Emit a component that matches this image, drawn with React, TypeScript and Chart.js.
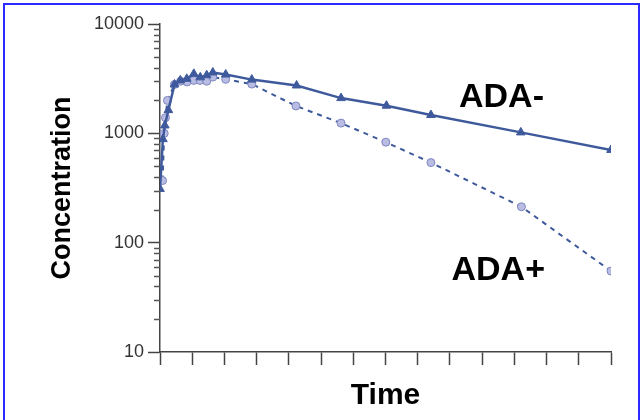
import React, { useEffect, useRef } from "react";
import { Chart, registerables } from "chart.js";

Chart.register(...registerables);

// Time in axis-tick units (ticks at 0..14)
const adaNegTime = [0, 0.09, 0.15, 0.26, 0.45, 0.63, 0.83, 1.05, 1.25, 1.45, 1.64, 2.04, 2.85, 4.24, 5.62, 7.03, 8.41, 11.2, 14];
const adaNegConc = [310, 885, 1180, 1630, 2800, 3050, 3150, 3500, 3250, 3400, 3600, 3450, 3100, 2740, 2100, 1790, 1470, 1020, 705];

const adaPosTime = [0.08, 0.13, 0.17, 0.23, 0.45, 0.64, 0.84, 1.05, 1.24, 1.45, 1.64, 2.04, 2.85, 4.22, 5.62, 7.01, 8.41, 11.22, 14];
const adaPosConc = [370, 1000, 1390, 2000, 2800, 3000, 2950, 3050, 3050, 3000, 3270, 3120, 2820, 1780, 1240, 830, 540, 213, 55];

const yMajorTicks = [10, 100, 1000, 10000];
const xTickCount = 15;

const labelNeg = { text: "ADA-", x: 10.6, y: 2140 };
const labelPos = { text: "ADA+", x: 10.5, y: 56 };

const LINE_BLUE = "#3f5a9c";
const CIRCLE_FILL = "#b9bde3";
const FONT = "Arial, 'Liberation Sans', sans-serif";

export default function App() {
  const ref = useRef<HTMLCanvasElement>(null);

  useEffect(() => {
    const canvas = ref.current;
    if (!canvas) return;

    const minorTicks: number[] = [];
    for (let d = 10; d < 10000; d *= 10) {
      for (let m = 2; m <= 9; m++) minorTicks.push(m * d);
    }

    const annotate = {
      id: "annotate",
      afterDraw(chart: any) {
        const { ctx, scales } = chart;
        const xs = scales.x;
        const ys = scales.y;
        ctx.save();
        ctx.strokeStyle = "#555";
        ctx.lineWidth = 1.5;
        const axX = xs.left;
        minorTicks.forEach((v) => {
          const py = Math.round(ys.getPixelForValue(v)) + 0.5;
          ctx.beginPath();
          ctx.moveTo(axX - 6, py);
          ctx.lineTo(axX, py);
          ctx.stroke();
        });
        ctx.fillStyle = "#000";
        ctx.font = "bold 34px " + FONT;
        ctx.textAlign = "center";
        ctx.textBaseline = "middle";
        [labelNeg, labelPos].forEach((l) => {
          ctx.fillText(l.text, xs.getPixelForValue(l.x), ys.getPixelForValue(l.y));
        });
        ctx.restore();
      },
    };

    const chart = new Chart(canvas, {
      type: "line",
      data: {
        datasets: [
          {
            label: "ADA-",
            data: adaNegTime.map((t, i) => ({ x: t, y: adaNegConc[i] })),
            borderColor: LINE_BLUE,
            backgroundColor: LINE_BLUE,
            borderWidth: 2.5,
            pointStyle: "triangle",
            pointRadius: 5,
            pointBorderWidth: 1,
            pointBorderColor: LINE_BLUE,
            pointBackgroundColor: LINE_BLUE,
            tension: 0,
          },
          {
            label: "ADA+",
            data: adaPosTime.map((t, i) => ({ x: t, y: adaPosConc[i] })),
            borderColor: LINE_BLUE,
            backgroundColor: CIRCLE_FILL,
            borderWidth: 2,
            borderDash: [5, 5],
            pointStyle: "circle",
            pointRadius: 4,
            pointBorderWidth: 1,
            pointBorderColor: "#7f86c0",
            pointBackgroundColor: CIRCLE_FILL,
            tension: 0,
          },
        ],
      },
      options: {
        animation: false,
        responsive: false,
        maintainAspectRatio: false,
        layout: { padding: { left: 0, right: 33, top: 24, bottom: 0 } },
        plugins: { legend: { display: false }, tooltip: { enabled: false } },
        scales: {
          x: {
            type: "linear",
            min: 0,
            max: xTickCount - 1,
            border: { display: true, color: "#444", width: 1.5 },
            grid: { drawOnChartArea: false, drawTicks: true, tickLength: 13, tickColor: "#444", tickWidth: 1.5 },
            ticks: { stepSize: 1, callback: () => "", padding: 0 },
            afterFit: (axis: any) => {
              axis.height = 68;
            },
            title: {
              display: true,
              text: "Time",
              color: "#000",
              font: { family: FONT, size: 30, weight: "bold" },
              padding: { top: 0, bottom: 6 },
            },
          },
          y: {
            type: "logarithmic",
            min: 10,
            max: 10000,
            border: { display: true, color: "#444", width: 1.5 },
            grid: { drawOnChartArea: false, drawTicks: true, tickLength: 12, tickColor: "#444", tickWidth: 1.5 },
            afterBuildTicks: (axis: any) => {
              axis.ticks = yMajorTicks.map((v) => ({ value: v }));
            },
            afterFit: (axis: any) => {
              axis.width = 160;
            },
            ticks: {
              color: "#333",
              font: { family: FONT, size: 18 },
              padding: 4,
              callback: (v: any) => String(v),
            },
            title: {
              display: true,
              text: "Concentration",
              color: "#000",
              font: { family: FONT, size: 27, weight: "bold" },
              padding: { top: 46, bottom: 0 },
            },
          },
        },
      },
      plugins: [annotate],
    });

    return () => chart.destroy();
  }, []);

  return (
    <div
      style={{
        position: "fixed",
        left: 0,
        top: 0,
        width: 644,
        height: 420,
        background: "#fff",
        overflow: "hidden",
      }}
    >
      <div
        style={{
          position: "absolute",
          left: 3,
          top: 3,
          width: 637,
          height: 430,
          border: "2px solid #2a2aff",
          boxSizing: "border-box",
        }}
      />
      <canvas
        ref={ref}
        width={644}
        height={420}
        style={{ position: "absolute", left: 0, top: 0, width: 644, height: 420 }}
      />
    </div>
  );
}
